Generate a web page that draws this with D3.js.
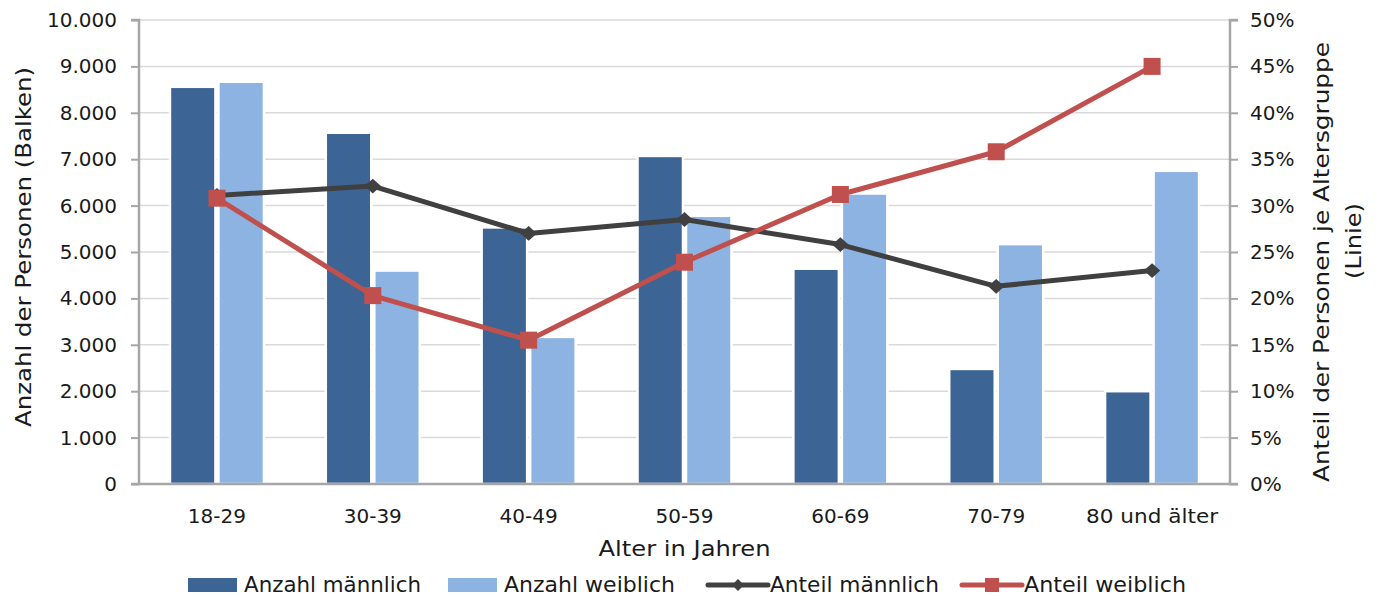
<!DOCTYPE html>
<html>
<head>
<meta charset="utf-8">
<script src="https://cdn.jsdelivr.net/npm/d3@7"></script>
<style>
  html, body { margin: 0; padding: 0; background: #fff; }
  svg { display: block; font-family: "DejaVu Sans", sans-serif; }
</style>
</head>
<body>
<svg id="chart" width="1379" height="596"></svg>
<script>
// Age groups and counts / shares per group
const categories = ["18-29", "30-39", "40-49", "50-59", "60-69", "70-79", "80 und älter"];
const countMale   = [8560, 7570, 5530, 7070, 4640, 2480, 2000];
const countFemale = [8670, 4600, 3170, 5780, 6260, 5170, 6750];
const shareMale   = [0.311, 0.321, 0.270, 0.285, 0.258, 0.213, 0.230];
const shareFemale = [0.308, 0.203, 0.155, 0.239, 0.312, 0.358, 0.450];
const countTicks  = [0, 1000, 2000, 3000, 4000, 5000, 6000, 7000, 8000, 9000, 10000];
const shareTicks  = [0, 0.05, 0.10, 0.15, 0.20, 0.25, 0.30, 0.35, 0.40, 0.45, 0.50];
const legendLabels = ["Anzahl männlich", "Anzahl weiblich", "Anteil männlich", "Anteil weiblich"];

const colors = {
  male: "#3c6494",
  female: "#8db3e2",
  lineMale: "#404040",
  lineFemale: "#c0504d",
  axis: "#a6a6a6",
  grid: "#d9d9d9",
  text: "#1a1a1a"
};

const svg = d3.select("#chart");
const m = { left: 139, right: 149, top: 20, bottom: 112 };
const W = 1379, H = 596;
const plotW = W - m.left - m.right;
const plotH = H - m.top - m.bottom;
const g = svg.append("g").attr("transform", `translate(${m.left},${m.top})`);

const x = d3.scaleBand().domain(categories).range([0, plotW]).paddingInner(0.397).paddingOuter(0.1985);
const xSub = d3.scaleBand().domain(["m", "f"]).range([0, x.bandwidth()]).paddingInner(0.062);
const yL = d3.scaleLinear().domain([0, 10000]).range([plotH, 0]);
const yR = d3.scaleLinear().domain([0, 0.5]).range([plotH, 0]);
const xc = c => x(c) + x.bandwidth() / 2;

const fmtCount = v => d3.format(",")(v).replace(/,/g, ".");
const fmtPct = v => Math.round(v * 100) + "%";

// gridlines
g.append("g").selectAll("line").data(countTicks.slice(1)).join("line")
  .attr("x1", 0).attr("x2", plotW)
  .attr("y1", d => yL(d)).attr("y2", d => yL(d))
  .attr("stroke", colors.grid).attr("stroke-width", 1.5);

// bars, with a white outline that separates them from gridlines
const groups = g.append("g").selectAll("g").data(categories).join("g")
  .attr("transform", d => `translate(${x(d)},0)`);
groups.append("rect")
  .attr("x", xSub("m")).attr("width", xSub.bandwidth())
  .attr("y", (d, i) => yL(countMale[i])).attr("height", (d, i) => plotH - yL(countMale[i]))
  .attr("fill", colors.male).attr("stroke", "#fff").attr("stroke-width", 2.5);
groups.append("rect")
  .attr("x", xSub("f")).attr("width", xSub.bandwidth())
  .attr("y", (d, i) => yL(countFemale[i])).attr("height", (d, i) => plotH - yL(countFemale[i]))
  .attr("fill", colors.female).attr("stroke", "#fff").attr("stroke-width", 2.5);

// axes
const axisL = d3.axisLeft(yL).tickValues(countTicks).tickFormat(fmtCount).tickSize(8).tickPadding(14);
const axisR = d3.axisRight(yR).tickValues(shareTicks).tickFormat(fmtPct).tickSize(8).tickPadding(12);
const axisB = d3.axisBottom(x).tickSize(0).tickPadding(25);

function styleAxis(sel) {
  sel.select(".domain").attr("stroke", colors.axis).attr("stroke-width", 2.5);
  sel.selectAll(".tick line").attr("stroke", colors.axis).attr("stroke-width", 2);
  sel.selectAll(".tick text").attr("fill", colors.text).style("font-size", "20px")
    .style("font-family", "DejaVu Sans, sans-serif");
}
g.append("g").call(axisL).call(styleAxis).call(s => s.select(".domain").attr("d", `M-8,0H0V${plotH}H-8`));
g.append("g").attr("transform", `translate(${plotW},0)`).call(axisR).call(styleAxis)
  .call(s => s.select(".domain").attr("d", `M8,0H0V${plotH}H8`));
g.append("g").attr("transform", `translate(0,${plotH})`).call(axisB).call(styleAxis)
  .call(s => s.select(".domain").attr("d", `M0,0H${plotW}`))
  .call(s => s.selectAll(".tick text").filter(d => d.length > 6)
    .attr("textLength", 132).attr("lengthAdjust", "spacingAndGlyphs"));

// lines
const lineGen = d3.line().x(d => xc(d.c)).y(d => yR(d.v));
const maleData = categories.map((c, i) => ({ c, v: shareMale[i] }));
const femaleData = categories.map((c, i) => ({ c, v: shareFemale[i] }));

g.append("path").datum(maleData).attr("d", lineGen)
  .attr("fill", "none").attr("stroke", colors.lineMale).attr("stroke-width", 5).attr("stroke-linejoin", "round");
g.append("g").selectAll("path").data(maleData).join("path")
  .attr("d", d3.symbol(d3.symbolDiamond2, 140))
  .attr("transform", d => `translate(${xc(d.c)},${yR(d.v)}) scale(1.1,1)`)
  .attr("fill", colors.lineMale);

g.append("path").datum(femaleData).attr("d", lineGen)
  .attr("fill", "none").attr("stroke", colors.lineFemale).attr("stroke-width", 5).attr("stroke-linejoin", "round");
g.append("g").selectAll("rect").data(femaleData).join("rect")
  .attr("x", d => xc(d.c) - 8.5).attr("y", d => yR(d.v) - 8.5)
  .attr("width", 17).attr("height", 17)
  .attr("fill", colors.lineFemale);

// axis titles
function title(tx, ty, rot, text, len) {
  return svg.append("text")
    .attr("transform", `translate(${tx},${ty}) rotate(${rot})`)
    .attr("text-anchor", "middle").attr("fill", colors.text).style("font-size", "21px")
    .attr("textLength", len).attr("lengthAdjust", "spacingAndGlyphs")
    .text(text);
}
title(31, 247, -90, "Anzahl der Personen (Balken)", 360);
title(1329, 262, -90, "Anteil der Personen je Altersgruppe", 440);
title(1361, 241, -90, "(Linie)", 76);
title(m.left + plotW / 2, 556, 0, "Alter in Jahren", 172);

// legend
const legendX = [188, 448, 708, 962];
const legendLen = [177, 171, 169, 162];
const leg = svg.append("g").selectAll("g").data(legendLabels).join("g")
  .attr("transform", (d, i) => `translate(${legendX[i]},585)`);
leg.each(function (d, i) {
  const s = d3.select(this);
  if (i < 2) {
    s.append("rect").attr("x", 0).attr("y", -7).attr("width", 49).attr("height", 14)
      .attr("fill", i === 0 ? colors.male : colors.female);
  } else {
    const col = i === 2 ? colors.lineMale : colors.lineFemale;
    s.append("line").attr("x1", 0).attr("x2", 60).attr("y1", 0).attr("y2", 0)
      .attr("stroke", col).attr("stroke-width", 5).attr("stroke-linecap", "round");
    if (i === 2) {
      s.append("path").attr("d", d3.symbol(d3.symbolDiamond2, 90)).attr("transform", "translate(30,0)").attr("fill", col);
    } else {
      s.append("rect").attr("x", 23).attr("y", -7).attr("width", 14).attr("height", 14).attr("fill", col);
    }
  }
  s.append("text").attr("x", i < 2 ? 56 : 62).attr("y", 7).attr("fill", colors.text)
    .style("font-size", "21px")
    .attr("textLength", legendLen[i]).attr("lengthAdjust", "spacingAndGlyphs")
    .text(d);
});
</script>
</body>
</html>
